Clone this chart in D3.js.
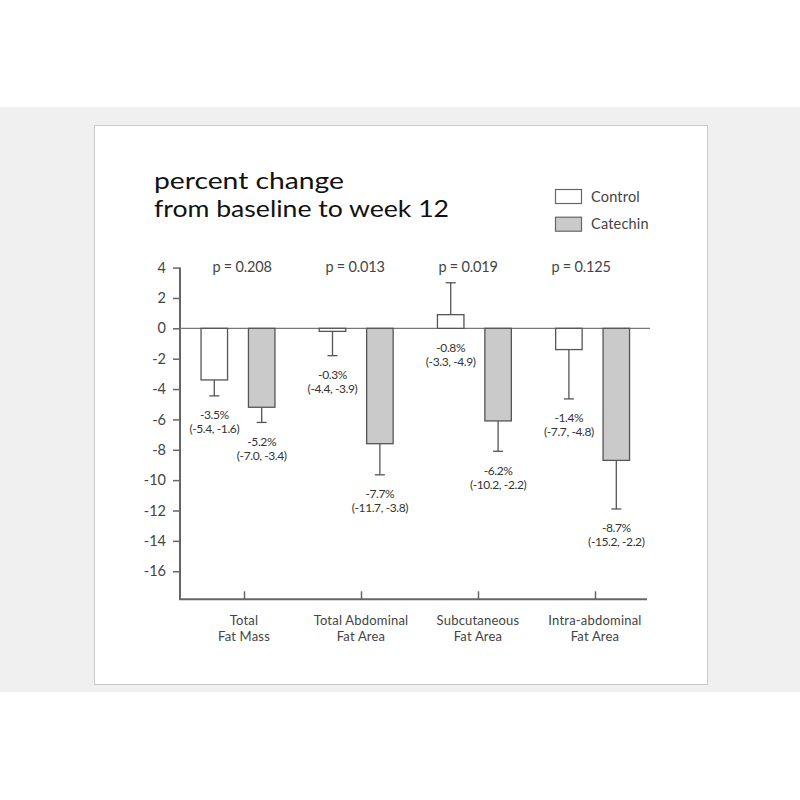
<!DOCTYPE html>
<meta charset="utf-8" />
<script src="https://d3js.org/d3.v7.min.js"></script>
<style>
  body { margin: 0; background: #fff; }
  text { font-family: Lato, "Noto Sans", sans-serif; }
</style>
<body>
<div id="chart"></div>
<script>
// data
const categories = ["Total Fat Mass", "Total Abdominal Fat Area", "Subcutaneous Fat Area", "Intra-abdominal Fat Area"];
const catLines = [["Total", "Fat Mass"], ["Total Abdominal", "Fat Area"], ["Subcutaneous", "Fat Area"], ["Intra-abdominal", "Fat Area"]];
const controlValues = [-3.4, -0.2, 0.9, -1.4];
const controlErrors = [1.05, 1.6, 2.1, 3.25];
const catechinValues = [-5.2, -7.6, -6.1, -8.7];
const catechinErrors = [1.0, 2.05, 2.0, 3.2];
const controlLabels = [["-3.5%", "(-5.4, -1.6)"], ["-0.3%", "(-4.4, -3.9)"], ["-0.8%", "(-3.3, -4.9)"], ["-1.4%", "(-7.7, -4.8)"]];
const catechinLabels = [["-5.2%", "(-7.0, -3.4)"], ["-7.7%", "(-11.7, -3.8)"], ["-6.2%", "(-10.2, -2.2)"], ["-8.7%", "(-15.2, -2.2)"]];
const pValues = ["p = 0.208", "p = 0.013", "p = 0.019", "p = 0.125"];
const yTicks = [4, 2, 0, -2, -4, -6, -8, -10, -12, -14, -16];
const seriesNames = ["Control", "Catechin"];
const seriesFill = ["#ffffff", "#cacaca"];

const W = 800, H = 800;
const svg = d3.select("#chart").append("svg")
  .attr("width", W).attr("height", H);

// grey band + framed panel
svg.append("rect").attr("x", 0).attr("y", 107).attr("width", W).attr("height", 585).attr("fill", "#f0f0f0");
svg.append("rect").attr("x", 94.5).attr("y", 125.5).attr("width", 613).attr("height", 559)
  .attr("fill", "#fff").attr("stroke", "#c9c9c9").attr("stroke-width", 1);

// scales
const y = d3.scaleLinear().domain([-17.85, 4]).range([599.3, 267.6]);
const xGroup = d3.scalePoint().domain(categories).range([238, 592.6]);
const xTick = d3.scalePoint().domain(categories).range([244, 595]);
const xP = d3.scalePoint().domain(categories).range([242, 581]);
const barW = 26.5, off = 23.7;

const axisColor = "#666";

// y axis
const yAxis = svg.append("g").attr("transform", "translate(180,0)")
  .call(d3.axisLeft(y).tickValues(yTicks).tickSize(7).tickPadding(7).tickFormat(function (d) { return String(d); }));
yAxis.select(".domain").attr("stroke", axisColor).attr("stroke-width", 2)
  .attr("d", "M0," + y(4) + "V" + y.range()[0]);
yAxis.selectAll(".tick line").attr("stroke", axisColor).attr("stroke-width", 1.5);
yAxis.selectAll(".tick text").attr("fill", "#444").style("font-size", "14.5px")
  .style("font-family", "Lato, sans-serif");

// x axis (bottom)
const xAxis = svg.append("g").attr("transform", "translate(0," + y.range()[0] + ")")
  .call(d3.axisBottom(xTick).tickSize(-8).tickFormat(""));
xAxis.select(".domain").attr("stroke", axisColor).attr("stroke-width", 2)
  .attr("d", "M179,0H647");
xAxis.selectAll(".tick line").attr("stroke", axisColor).attr("stroke-width", 1.5);

// category labels
categories.forEach(function (c, i) {
  catLines[i].forEach(function (ln, j) {
    svg.append("text").attr("text-anchor", "middle")
      .attr("fill", "#444").style("font-size", "13px").style("letter-spacing", "0.2px")
      .attr("x", xTick(c)).attr("y", 625 + j * 16).text(ln);
  });
});

// zero line
svg.append("line").attr("x1", 180).attr("x2", 650).attr("y1", y(0)).attr("y2", y(0))
  .attr("stroke", "#777").attr("stroke-width", 1.3);

// bars, error bars, labels
const series = [
  { vals: controlValues, errs: controlErrors, labels: controlLabels, dx: -off, fill: seriesFill[0] },
  { vals: catechinValues, errs: catechinErrors, labels: catechinLabels, dx: off, fill: seriesFill[1] }
];

series.forEach(function (s) {
  const data = categories.map(function (c, i) {
    return { c: c, v: s.vals[i], e: s.errs[i], lab: s.labels[i] };
  });
  const g = svg.append("g");
  const cx = function (d) { return xGroup(d.c) + s.dx; };
  const errEnd = function (d) { return d.v >= 0 ? d.v + d.e : d.v - d.e; };

  g.selectAll("line.err").data(data).enter().append("line")
    .attr("x1", cx).attr("x2", cx)
    .attr("y1", function (d) { return y(d.v); })
    .attr("y2", function (d) { return y(errEnd(d)); })
    .attr("stroke", "#555").attr("stroke-width", 1.3);
  g.selectAll("line.cap").data(data).enter().append("line")
    .attr("x1", function (d) { return cx(d) - 5; })
    .attr("x2", function (d) { return cx(d) + 5; })
    .attr("y1", function (d) { return y(errEnd(d)); })
    .attr("y2", function (d) { return y(errEnd(d)); })
    .attr("stroke", "#555").attr("stroke-width", 1.3);

  g.selectAll("rect").data(data).enter().append("rect")
    .attr("x", function (d) { return cx(d) - barW / 2; })
    .attr("y", function (d) { return y(Math.max(0, d.v)); })
    .attr("width", barW)
    .attr("height", function (d) { return Math.abs(y(d.v) - y(0)); })
    .attr("fill", s.fill).attr("stroke", "#555").attr("stroke-width", 1.3);

  data.forEach(function (d) {
    const low = d.v >= 0 ? 0 : errEnd(d);
    d.lab.forEach(function (ln, j) {
      g.append("text").attr("text-anchor", "middle").attr("fill", "#333")
        .style("font-size", "12px").style("letter-spacing", "-0.4px")
        .attr("x", cx(d)).attr("y", y(low) + 23.5 + j * 14).text(ln);
    });
  });
});

// p values
svg.selectAll("text.p").data(categories).enter().append("text")
  .attr("x", function (d) { return xP(d); }).attr("y", 271.5)
  .attr("text-anchor", "middle").attr("fill", "#444")
  .style("font-size", "14.5px").style("letter-spacing", "-0.2px")
  .text(function (d, i) { return pValues[i]; });

// title (stretched to the width of the wide original face)
svg.append("text").attr("fill", "#111").style("font-size", "23px")
  .attr("x", 154).attr("y", 189)
  .attr("textLength", 190).attr("lengthAdjust", "spacingAndGlyphs")
  .text("percent change");
svg.append("text").attr("fill", "#111").style("font-size", "23px")
  .attr("x", 154).attr("y", 216.5)
  .attr("textLength", 295).attr("lengthAdjust", "spacingAndGlyphs")
  .text("from baseline to week 12");

// legend
seriesNames.forEach(function (n, i) {
  const ly = 189 + i * 27.7;
  svg.append("rect").attr("x", 555.5).attr("y", ly + 0.5).attr("width", 26).attr("height", 14)
    .attr("fill", seriesFill[i]).attr("stroke", "#666").attr("stroke-width", 1.2);
  svg.append("text").attr("x", 591).attr("y", ly + 12.5).attr("fill", "#444")
    .style("font-size", "14.5px").style("letter-spacing", "0.2px").text(n);
});
</script>
</body>
